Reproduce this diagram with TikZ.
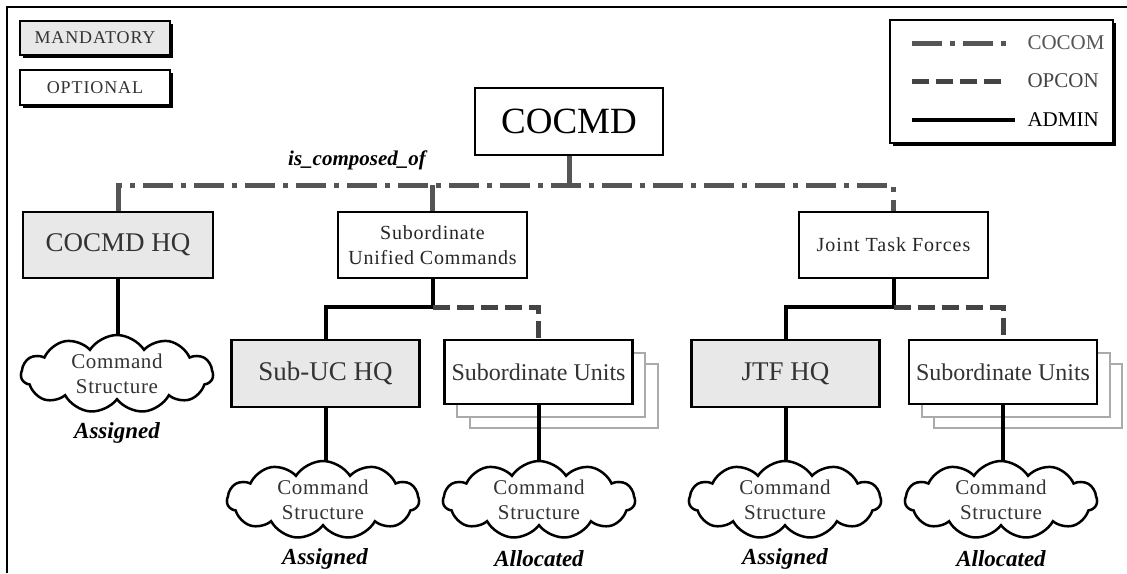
\documentclass[tikz,border=0pt]{standalone}
\usepackage{fontspec}
\setmainfont{Liberation Serif}
\usetikzlibrary{shapes.symbols,backgrounds,shadows}

\definecolor{hqgray}{HTML}{E8E8E8}
\definecolor{cocomgray}{HTML}{555555}
\definecolor{opcongray}{HTML}{444444}
\definecolor{textgray}{HTML}{333333}
\definecolor{stackgray}{HTML}{AAAAAA}

\newcommand\fsz[2]{\fontsize{#1}{#2}\selectfont}
\newcommand\spread[1]{\addfontfeatures{LetterSpace=#1}}

\begin{document}
\begin{tikzpicture}[x=1pt,y=-1pt,
  box/.style={draw=black, line width=2.5pt, fill=white, inner sep=0pt, text=textgray},
  hqbox/.style={box, fill=hqgray, minimum width=188, minimum height=67, font=\fsz{27}{30}},
  unitbox/.style={box, minimum width=188, minimum height=64, font=\fsz{24}{28}},
  stackbox/.style={draw=stackgray, line width=2pt, fill=white, minimum width=188, minimum height=64},
  keybox/.style={draw=black, line width=1.8pt, inner sep=0pt,
    drop shadow={shadow xshift=2.5pt, shadow yshift=-2.5pt, fill=black, opacity=1}},
  cmdcloud/.style={shape=cloud, draw=black, line width=2.5pt, fill=white,
    cloud puffs=11, cloud puff arc=115, cloud ignores aspect,
    minimum width=192, minimum height=78, inner sep=0pt},
  cloudtext/.style={align=center, text=textgray, font=\fsz{21}{25}\spread{3}},
  status/.style={font=\fsz{23}{26}\bfseries\itshape, text=black},
  cocom/.style={draw=cocomgray, line width=5pt, dash pattern=on 30pt off 8pt on 5pt off 8pt},
  opcon/.style={draw=opcongray, line width=5pt, dash pattern=on 17pt off 7pt},
  admin/.style={draw=black, line width=4pt},
  keytext/.style={anchor=west, font=\fsz{21}{24}}
]
\useasboundingbox (0,0) rectangle (1127,573);

% outer frame (top and left edges)
\draw[line width=2pt] (7,573) -- (7,7) -- (1127,7);

% box key
\node[keybox, fill=hqgray, minimum width=150, minimum height=34,
      font=\fsz{18}{20}\spread{5}, text=textgray] (mand) at (95,38) {MANDATORY};
\node[keybox, fill=white, minimum width=150, minimum height=35,
      font=\fsz{18}{20}\spread{5}, text=textgray] (opt) at (95,87.5) {OPTIONAL};

% line key
\node[keybox, fill=white, minimum width=223, minimum height=123] (key) at (1001.5,81.5) {};
\coordinate (k1a) at (912,43);  \coordinate (k1b) at (1007,43);
\coordinate (k2a) at (912,81);  \coordinate (k2b) at (1004,81);
\coordinate (k3a) at (912,120); \coordinate (k3b) at (1015,120);
\draw[cocom] (k1a) -- (k1b);
\draw[opcon] (k2a) -- (k2b);
\draw[draw=black, line width=3.5pt] (k3a) -- (k3b);
\node[keytext, text=cocomgray] (k1t) at (1024,43) {COCOM};
\node[keytext, text=opcongray] (k2t) at (1024,81) {OPCON};
\node[keytext, text=black] (k3t) at (1024,120) {ADMIN};

% command hierarchy
\node[box, minimum width=188, minimum height=67, font=\fsz{37}{40}, text=black] (cocmd) at (569,121.5) {COCMD};
\node[font=\fsz{21}{24}\bfseries\itshape] (comp) at (357,160) {is\_composed\_of};

\node[hqbox, minimum width=190, minimum height=66] (hq) at (118,245) {COCMD HQ};
\node[box, minimum width=189, minimum height=66, font=\fsz{20}{25}\spread{4}, align=center, text=black!85] (suc) at (432.5,245) {Subordinate\\Unified Commands};
\node[box, minimum width=189, minimum height=66, font=\fsz{20}{25}\spread{5}, text=black!85] (jtf) at (893.5,245) {Joint Task Forces};

\node[hqbox] (subhq) at (325.5,373.5) {Sub-UC HQ};
\node[unitbox] (su1) at (538.5,372) {Subordinate Units};
\node[hqbox] (jtfhq) at (785.5,373.5) {JTF HQ};
\node[unitbox] (su2) at (1003,372) {Subordinate Units};

% command structures
\node[cmdcloud] (c1) at (117,374) {};
\node[cmdcloud] (c2) at (323,500) {};
\node[cmdcloud] (c3) at (539,500) {};
\node[cmdcloud] (c4) at (785,500) {};
\node[cmdcloud] (c5) at (1001,500) {};
\node[cloudtext] (c1t) at (c1) {Command\\Structure};
\node[cloudtext] (c2t) at (c2) {Command\\Structure};
\node[cloudtext] (c3t) at (c3) {Command\\Structure};
\node[cloudtext] (c4t) at (c4) {Command\\Structure};
\node[cloudtext] (c5t) at (c5) {Command\\Structure};

\node[status] (s1) at (117,433) {Assigned};
\node[status] (s2) at (325,559) {Assigned};
\node[status] (s3) at (539,559) {Allocated};
\node[status] (s4) at (785,559) {Assigned};
\node[status] (s5) at (1001,559) {Allocated};

\coordinate (busy) at (0,185);
\coordinate (spy) at (0,307);

\begin{pgfonlayer}{background}
  % stacked copies behind the unit boxes
  \node[stackbox] (su1c) at (563.5,396) {};
  \node[stackbox] (su1b) at (551,384.5) {};
  \node[stackbox] (su2c) at (1028,396) {};
  \node[stackbox] (su2b) at (1015.5,384.5) {};

  % combatant command bus
  \draw[cocom] (hq.north) -- (hq.north |- busy) -- (jtf.north |- busy) -- (jtf.north);
  \draw[cocom] (cocmd.south) -- (cocmd.south |- busy);
  \draw[cocom] (suc.north |- busy) -- (suc.north);

  % administrative and operational control
  \draw[admin] (suc.south) -- (suc.south |- spy) -| (subhq.north);
  \draw[opcon] (suc.south |- spy) -| (su1.north);
  \draw[admin] (jtf.south) -- (jtf.south |- spy) -| (jtfhq.north);
  \draw[opcon] (jtf.south |- spy) -| (su2.north);

  % links to command structures
  \draw[admin] (hq.south) -- (hq.south |- c1.center);
  \draw[admin] (subhq.south) -- (subhq.south |- c2.center);
  \draw[admin] (su1.south) -- (su1.south |- c3.center);
  \draw[admin] (jtfhq.south) -- (jtfhq.south |- c4.center);
  \draw[admin] (su2.south) -- (su2.south |- c5.center);
\end{pgfonlayer}
\end{tikzpicture}
\end{document}
